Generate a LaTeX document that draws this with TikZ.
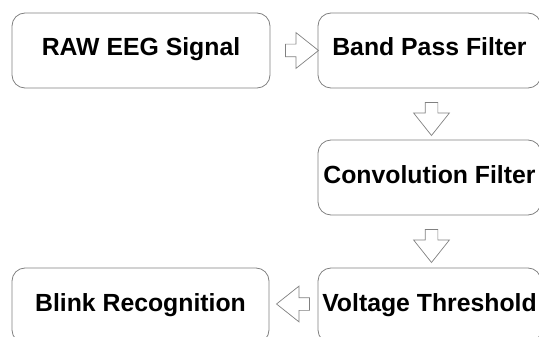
\documentclass[tikz,border=0pt]{standalone}
\usepackage{fontspec}
\setmainfont{Liberation Sans}
\usetikzlibrary{shapes.arrows}
\usetikzlibrary{calc}

\begin{document}
\begin{tikzpicture}[x=1pt, y=-1pt,
  stagebox/.style={draw=black!50, line width=0.8pt, rounded corners=13pt,
    minimum height=75pt, inner xsep=0pt, text height=24pt, text depth=13pt,
    font=\bfseries\fontsize{24.8}{28}\selectfont},
  flowarrow/.style={single arrow, draw=black!50, line width=0.7pt,
    minimum height=33pt, minimum width=35pt, inner xsep=0pt, inner ysep=6pt,
    single arrow head extend=11.5pt, single arrow tip angle=77}]
  \useasboundingbox (0,0) rectangle (539,337);

  % Top row
  \node[stagebox, minimum width=258pt] (raw) at (141,50.5) {RAW EEG Signal};
  \node[stagebox, minimum width=223pt] (band) at (429.5,50.5) {Band Pass Filter};

  % Right column
  \node[stagebox, minimum width=223pt] (conv) at (429.5,177.5) {Convolution Filter};
  \node[stagebox, minimum width=223pt] (volt) at (429.5,305.5) {Voltage Threshold};

  % Bottom row
  \node[stagebox, minimum width=257pt] (blink) at (140.5,305.5) {Blink Recognition};

  % Hollow arrows from stage to stage
  \node[flowarrow] (a1) at ($(raw.east)!0.5!(band.west)+(4,0)$) {};
  \node[flowarrow, rotate=-90] (a2) at ($(band.south)!0.5!(conv.north)+(2,1)$) {};
  \node[flowarrow, rotate=-90] (a3) at ($(conv.south)!0.5!(volt.north)+(2,0.5)$) {};
  \node[flowarrow, rotate=180] (a4) at ($(volt.west)!0.5!(blink.east)+(3.5,-1.5)$) {};
\end{tikzpicture}
\end{document}
